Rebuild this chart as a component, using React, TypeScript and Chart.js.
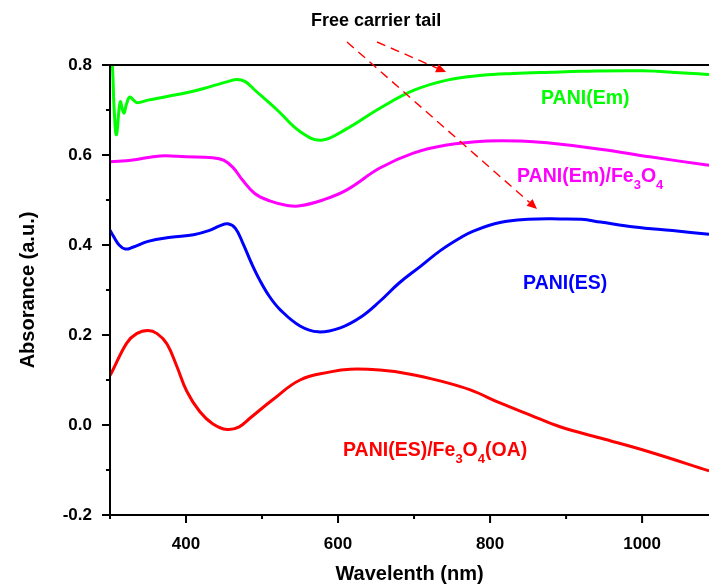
import React, { useEffect, useRef } from "react";
import { Chart, registerables } from "chart.js";

Chart.register(...registerables);

const FONT = 'Arial, "Liberation Sans", Helvetica, sans-serif';

// ---------- data (wavelength in nm, absorbance in a.u.) ----------
const emWl = [300.5, 303, 305.5, 308.5, 313.5, 318, 322, 326, 331, 336, 350, 375, 405, 432, 455, 467, 478, 490, 520, 550, 578, 610, 655, 700, 745, 790, 830, 880, 920, 1000, 1050, 1088];
const emAbs = [0.82, 0.8, 0.7, 0.645, 0.718, 0.693, 0.715, 0.729, 0.722, 0.716, 0.722, 0.73, 0.74, 0.752, 0.763, 0.768, 0.763, 0.745, 0.7, 0.652, 0.633, 0.657, 0.704, 0.744, 0.767, 0.777, 0.781, 0.784, 0.786, 0.787, 0.783, 0.779];

const emFeWl = [300, 330, 366, 400, 435, 450, 462, 474, 490, 510, 533, 550, 580, 611, 655, 699, 743, 796, 840, 875, 945, 1010, 1088];
const emFeAbs = [0.585, 0.589, 0.598, 0.596, 0.594, 0.588, 0.572, 0.545, 0.515, 0.498, 0.488, 0.487, 0.5, 0.522, 0.571, 0.604, 0.622, 0.631, 0.631, 0.627, 0.613, 0.596, 0.577];

const esWl = [300, 305, 312, 320, 330, 350, 380, 410, 430, 445, 455, 465, 475, 486, 497, 510, 524, 550, 574, 603, 630, 655, 680, 708, 735, 761, 778, 813, 850, 892, 920, 945, 990, 1040, 1088];
const esAbs = [0.433, 0.418, 0.4, 0.391, 0.395, 0.408, 0.417, 0.423, 0.432, 0.443, 0.447, 0.437, 0.403, 0.36, 0.322, 0.285, 0.256, 0.22, 0.207, 0.216, 0.24, 0.275, 0.315, 0.352, 0.388, 0.416, 0.431, 0.45, 0.457, 0.458, 0.457, 0.451, 0.44, 0.432, 0.424];

const esFeWl = [300, 302, 322, 335, 350, 362, 375, 388, 401, 418, 435, 454, 470, 484, 514, 550, 590, 616, 655, 695, 734, 774, 813, 853, 892, 945, 1010, 1088];
const esFeAbs = [0.11, 0.116, 0.182, 0.203, 0.21, 0.203, 0.18, 0.13, 0.075, 0.03, 0.003, -0.01, -0.004, 0.015, 0.056, 0.1, 0.118, 0.124, 0.122, 0.113, 0.098, 0.078, 0.049, 0.022, -0.004, -0.029, -0.06, -0.102];

// ---------- axes ----------
const xTicks = [300, 400, 500, 600, 700, 800, 900, 1000];
const xMajor = [400, 600, 800, 1000];
const yTicks = [-0.2, -0.1, 0, 0.1, 0.2, 0.3, 0.4, 0.5, 0.6, 0.7, 0.8];
const yMajor = [-0.2, 0, 0.2, 0.4, 0.6, 0.8];

const GREEN = "#00ff00";
const MAGENTA = "#ff00ff";
const BLUE = "#0000ff";
const RED = "#ff0000";

// ---------- annotations (anchored in data coordinates) ----------
type Seg = [string, boolean];
const seriesLabels: { segs: Seg[]; x: number; y: number; color: string }[] = [
  { segs: [["PANI(Em)", false]], x: 867, y: 0.713, color: GREEN },
  { segs: [["PANI(Em)/Fe", false], ["3", true], ["O", false], ["4", true]], x: 835.5, y: 0.54, color: MAGENTA },
  { segs: [["PANI(ES)", false]], x: 843.4, y: 0.302, color: BLUE },
  { segs: [["PANI(ES)/Fe", false], ["3", true], ["O", false], ["4", true], ["(OA)", false]], x: 606.6, y: -0.069, color: RED },
];
const noteText = "Free carrier tail";
const notePos = { x: 564.5, y: 0.8867 };
const arrows = [
  { x0: 651.3, y0: 0.8511, x1: 742.1, y1: 0.7844 },
  { x0: 611.8, y0: 0.8511, x1: 861.8, y1: 0.48 },
];

function pts(xs: number[], ys: number[]) {
  return xs.map((x, i) => ({ x, y: ys[i] }));
}

const decorPlugin = {
  id: "decor",
  afterDatasetsDraw(chart: any) {
    const { ctx, chartArea: a, scales } = chart;
    const xs = scales.x;
    const ys = scales.y;
    ctx.save();
    // frame: left, bottom, top
    ctx.strokeStyle = "#000";
    ctx.lineWidth = 2;
    ctx.setLineDash([]);
    ctx.beginPath();
    ctx.moveTo(a.left - 1, a.top);
    ctx.lineTo(a.right, a.top);
    ctx.moveTo(a.left, a.top - 1);
    ctx.lineTo(a.left, a.bottom + 1);
    ctx.moveTo(a.left - 1, a.bottom);
    ctx.lineTo(a.right, a.bottom);
    // tick marks
    xTicks.forEach((v) => {
      const px = xs.getPixelForValue(v);
      const len = xMajor.includes(v) ? 8 : 4;
      ctx.moveTo(px, a.bottom);
      ctx.lineTo(px, a.bottom + len);
    });
    yTicks.forEach((v) => {
      const py = ys.getPixelForValue(v);
      const len = yMajor.some((m) => Math.abs(m - v) < 1e-6) ? 8 : 4;
      ctx.moveTo(a.left, py);
      ctx.lineTo(a.left - len, py);
    });
    ctx.stroke();

    // series labels with subscripts
    const mainFont = `bold 19.5px ${FONT}`;
    const subFont = `bold 13px ${FONT}`;
    ctx.textBaseline = "alphabetic";
    ctx.textAlign = "left";
    seriesLabels.forEach((lab) => {
      let px = xs.getPixelForValue(lab.x);
      const py = ys.getPixelForValue(lab.y);
      ctx.fillStyle = lab.color;
      lab.segs.forEach(([t, sub]) => {
        ctx.font = sub ? subFont : mainFont;
        ctx.fillText(t, px, sub ? py + 7 : py);
        px += ctx.measureText(t).width;
      });
    });

    // note text
    ctx.fillStyle = "#000";
    ctx.font = `bold 18px ${FONT}`;
    ctx.fillText(noteText, xs.getPixelForValue(notePos.x), ys.getPixelForValue(notePos.y));

    // dashed arrows
    ctx.strokeStyle = RED;
    ctx.fillStyle = RED;
    ctx.lineWidth = 1.4;
    arrows.forEach((ar) => {
      const x0 = xs.getPixelForValue(ar.x0);
      const y0 = ys.getPixelForValue(ar.y0);
      const x1 = xs.getPixelForValue(ar.x1);
      const y1 = ys.getPixelForValue(ar.y1);
      const ang = Math.atan2(y1 - y0, x1 - x0);
      const hl = 10;
      const hw = 4.5;
      const bx = x1 - hl * Math.cos(ang);
      const by = y1 - hl * Math.sin(ang);
      ctx.setLineDash([9, 6]);
      ctx.beginPath();
      ctx.moveTo(x0, y0);
      ctx.lineTo(bx, by);
      ctx.stroke();
      ctx.setLineDash([]);
      ctx.beginPath();
      ctx.moveTo(x1, y1);
      ctx.lineTo(bx + hw * Math.sin(ang), by - hw * Math.cos(ang));
      ctx.lineTo(bx - hw * Math.sin(ang), by + hw * Math.cos(ang));
      ctx.closePath();
      ctx.fill();
    });
    ctx.restore();
  },
};

export default function App() {
  const ref = useRef<HTMLCanvasElement | null>(null);

  useEffect(() => {
    if (!ref.current) return;
    const mk = (label: string, xs: number[], ys: number[], color: string) => ({
      label,
      data: pts(xs, ys),
      borderColor: color,
      backgroundColor: color,
      borderWidth: 3,
      pointRadius: 0,
      fill: false,
      tension: 0.4,
    });
    const chart = new Chart(ref.current, {
      type: "line",
      data: {
        datasets: [
          mk("PANI(Em)", emWl, emAbs, GREEN),
          mk("PANI(Em)/Fe3O4", emFeWl, emFeAbs, MAGENTA),
          mk("PANI(ES)", esWl, esAbs, BLUE),
          mk("PANI(ES)/Fe3O4(OA)", esFeWl, esFeAbs, RED),
        ],
      },
      options: {
        animation: false,
        responsive: false,
        devicePixelRatio: 1,
        layout: { padding: { top: 65, left: 0, right: 0, bottom: 0 } },
        plugins: { legend: { display: false }, tooltip: { enabled: false } },
        scales: {
          x: {
            type: "linear",
            min: 300,
            max: 1088,
            grid: { display: false },
            border: { display: false },
            afterBuildTicks: (s: any) => {
              s.ticks = xTicks.map((v) => ({ value: v }));
            },
            afterFit: (s: any) => {
              s.height = 72;
            },
            ticks: {
              autoSkip: false,
              maxRotation: 0,
              padding: 11,
              color: "#000",
              font: { family: FONT, size: 17, weight: "bold" },
              callback: (v: any) => (xMajor.includes(Number(v)) ? String(v) : ""),
            },
            title: {
              display: true,
              text: "Wavelenth (nm)",
              color: "#000",
              font: { family: FONT, size: 20, weight: "bold" },
              padding: { top: 0, bottom: 1 },
            },
          },
          y: {
            type: "linear",
            min: -0.2,
            max: 0.8,
            grid: { display: false },
            border: { display: false },
            afterBuildTicks: (s: any) => {
              s.ticks = yTicks.map((v) => ({ value: v }));
            },
            afterFit: (s: any) => {
              s.width = 110;
            },
            ticks: {
              autoSkip: false,
              padding: 10,
              color: "#000",
              font: { family: FONT, size: 17, weight: "bold" },
              callback: (v: any) => {
                const k = Math.round(Number(v) * 10);
                return k % 2 === 0 ? (k / 10).toFixed(1) : "";
              },
            },
            title: {
              display: true,
              text: "Absorance (a.u.)",
              color: "#000",
              font: { family: FONT, size: 20, weight: "bold" },
              padding: { top: 16, bottom: 0 },
            },
          },
        },
      },
      plugins: [decorPlugin],
    });
    return () => chart.destroy();
  }, []);

  return (
    <div style={{ position: "absolute", left: 0, top: 0, width: 709, height: 587, background: "#fff" }}>
      <canvas ref={ref} width={709} height={587} style={{ display: "block" }} />
    </div>
  );
}
